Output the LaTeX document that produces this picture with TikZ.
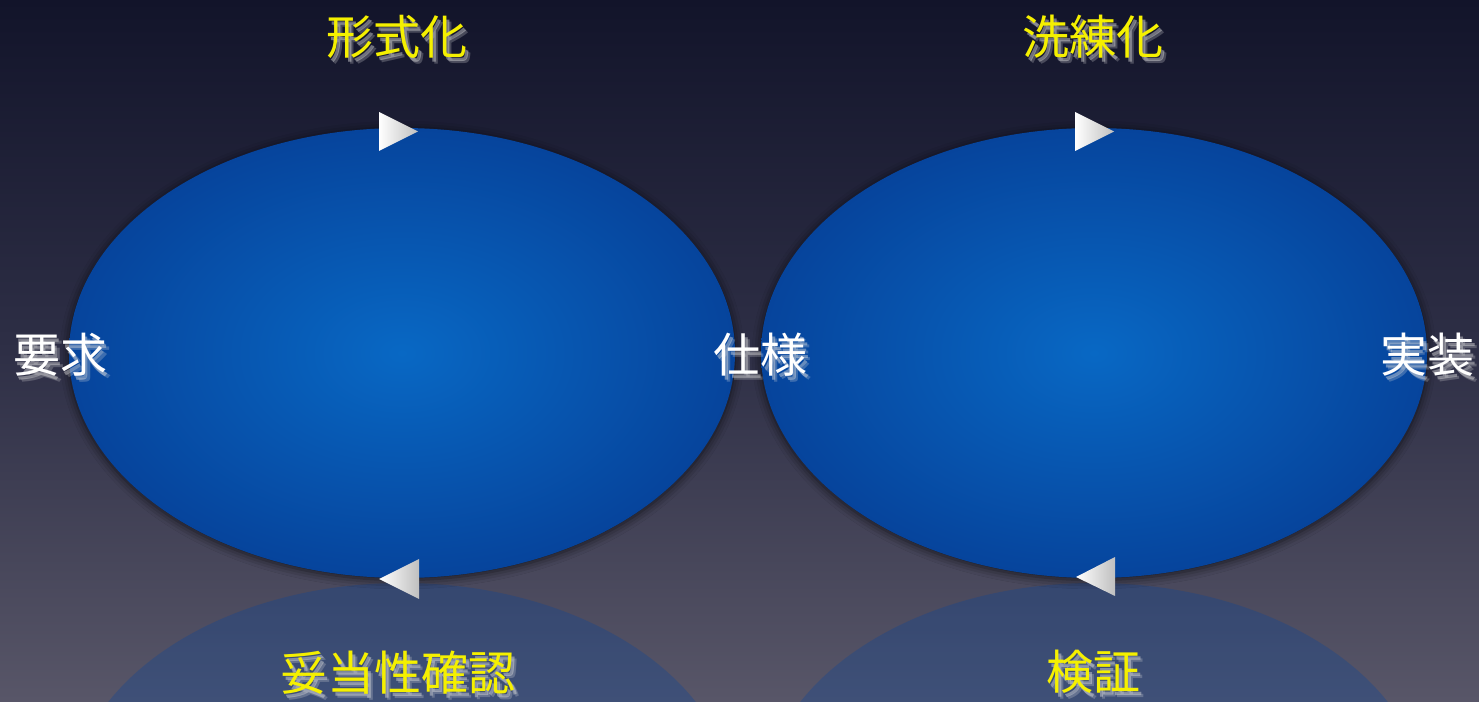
\documentclass[tikz,border=0pt]{standalone}
\usepackage{fontspec}
\newfontfamily\cjk{Noto Sans CJK JP}
\usetikzlibrary{shapes.geometric,shadows.blur}
\definecolor{bgtop}{RGB}{18,20,42}
\definecolor{bgmid}{RGB}{46,47,70}
\definecolor{bgbot}{RGB}{88,86,104}
\definecolor{blueC}{RGB}{8,104,196}
\definecolor{blueE}{RGB}{6,68,156}
\definecolor{ylw}{RGB}{245,240,0}
\tikzset{
  loop/.style={ellipse, minimum width=666pt, minimum height=450pt, inner sep=0pt,
    inner color=blueC, outer color=blueE,
    blur shadow={shadow xshift=0pt, shadow yshift=-2pt, shadow blur radius=9pt, shadow opacity=70}},
  refl/.style={ellipse, minimum width=666pt, minimum height=450pt, inner sep=0pt, fill=blueE, fill opacity=0.3},
  tri/.style={left color=white, right color=black!25},
  lab/.style={font=\cjk\fontsize{47}{47}\selectfont, inner sep=0pt},
  sh/.style={lab, text=white!75!gray},
}
\begin{document}
\begin{tikzpicture}[x=1pt,y=1pt]
\useasboundingbox (0,0) rectangle (1479,701);
\shade[top color=bgtop, bottom color=bgbot, middle color=bgmid] (0,0) rectangle (1479,701);
% reflections
\begin{scope}
\clip (0,0) rectangle (1479,701);
\node[refl] (r1) at (402,-107) {};
\node[refl] (r2) at (1094,-107) {};
\end{scope}
% main ellipses
\node[loop] (e1) at (402,348) {};
\node[loop] (e2) at (1094,348) {};
% triangles
\shade[tri] (379,589) -- (379,550) -- (418,569.5) -- cycle;
\shade[tri] (1075,589) -- (1075,550) -- (1114,569.5) -- cycle;
\shade[tri] (379,122) -- (419,142) -- (419,102) -- cycle;
\shade[tri] (1076,124) -- (1115,144) -- (1115,105) -- cycle;
% label shadows (soft glow)
\foreach \p/\t in {{(397,664)}/形式化, {(1093,664)}/洗練化, {(398,28)}/妥当性確認, {(1093,29)}/検証, {(60,346)}/要求, {(760,346)}/仕様, {(1427,346)}/実装}{
  \node[sh, opacity=0.25, xshift=5pt, yshift=-6pt] at \p {\t};
  \node[sh, opacity=0.45, xshift=3pt, yshift=-4pt] at \p {\t};
}
% labels
\node[lab, text=ylw] (f) at (397,664) {形式化};
\node[lab, text=ylw] (s) at (1093,664) {洗練化};
\node[lab, text=ylw] (v) at (398,28) {妥当性確認};
\node[lab, text=ylw] (k) at (1093,29) {検証};
\node[lab, text=white] (req) at (60,346) {要求};
\node[lab, text=white] (spec) at (760,346) {仕様};
\node[lab, text=white] (impl) at (1427,346) {実装};
\end{tikzpicture}
\end{document}
